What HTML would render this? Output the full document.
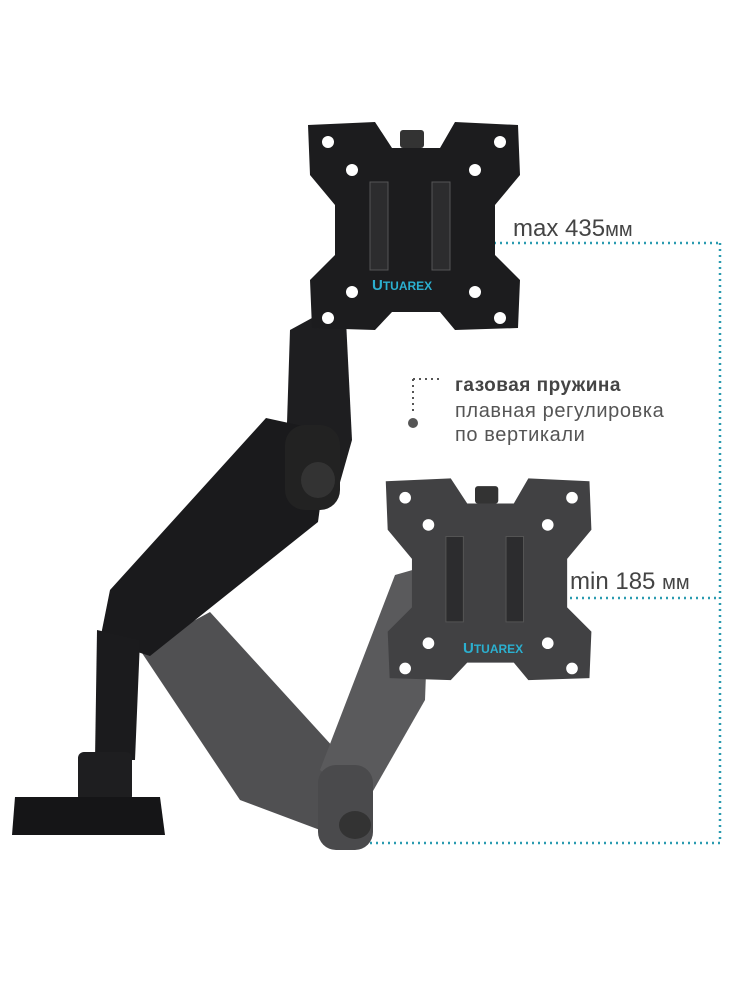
<!DOCTYPE html>
<html><head><meta charset="utf-8"><style>
html,body{margin:0;padding:0;background:#fff;width:750px;height:1000px;overflow:hidden}
svg{display:block}
text{font-family:"Liberation Sans",sans-serif}
</style></head><body>
<svg width="750" height="1000" viewBox="0 0 750 1000">
<defs>
<g id="plate">
<polygon points="308,125 375,122 392,148 440,148 455,122 518,125 520,175 495,205 495,255 520,280 518,328 455,330 440,312 392,312 375,330 312,328 310,280 335,255 335,205 310,175"/>
<g fill="#fff">
<circle cx="328" cy="142" r="6"/><circle cx="500" cy="142" r="6"/>
<circle cx="352" cy="170" r="6"/><circle cx="475" cy="170" r="6"/>
<circle cx="352" cy="292" r="6"/><circle cx="475" cy="292" r="6"/>
<circle cx="328" cy="318" r="6"/><circle cx="500" cy="318" r="6"/>
</g>
<rect x="370" y="182" width="18" height="88" fill="#2c2c2e" stroke="#555"/>
<rect x="432" y="182" width="18" height="88" fill="#2c2c2e" stroke="#555"/>
<rect x="400" y="130" width="24" height="18" rx="3" fill="#333"/>
</g>
</defs>

<g stroke="#2a9bb0" stroke-width="2.5" stroke-dasharray="2 4" fill="none">
<line x1="488" y1="243" x2="720" y2="243"/>
<line x1="720" y1="243" x2="720" y2="843"/>
<line x1="570" y1="598" x2="720" y2="598"/>
<line x1="358" y1="843" x2="720" y2="843"/>
</g>
<g stroke="#555" stroke-width="2" stroke-dasharray="2 4" fill="none">
<line x1="413" y1="379" x2="440" y2="379"/>
<line x1="413" y1="379" x2="413" y2="415"/>
</g>
<circle cx="413" cy="423" r="5" fill="#555"/>

<!-- gray (lower) arm -->
<polygon points="140,650 210,612 345,760 320,830 240,800" fill="#505052"/>
<polygon points="320,770 395,575 430,565 425,700 365,805" fill="#5a5a5c"/>
<rect x="318" y="765" width="55" height="85" rx="18" fill="#4a4a4c"/>
<ellipse cx="355" cy="825" rx="16" ry="14" fill="#333"/>

<g fill="#414143" transform="translate(87,360) scale(0.97)"><use href="#plate"/></g>
<text x="463" y="653" font-size="15" font-weight="bold" fill="#2bb0d0">U<tspan font-size="12">TUAREX</tspan></text>

<!-- black arm -->
<polygon points="290,330 345,300 352,440 335,500 285,485" fill="#1e1e20"/>
<polygon points="266,418 330,432 318,522 150,656 100,640 110,590" fill="#1a1a1c"/>
<rect x="285" y="425" width="55" height="85" rx="20" fill="#222"/>
<ellipse cx="318" cy="480" rx="17" ry="18" fill="#333"/>
<polygon points="97,630 140,640 135,760 95,760" fill="#1b1b1d"/>
<rect x="78" y="752" width="54" height="50" rx="6" fill="#1e1e20"/>
<polygon points="15,797 160,797 165,835 12,835" fill="#151517"/>

<g fill="#1c1c1e"><use href="#plate"/></g>
<text x="372" y="290" font-size="15" font-weight="bold" fill="#2bb0d0">U<tspan font-size="12">TUAREX</tspan></text>

<text x="513" y="236" font-size="24" fill="#444">max 435<tspan font-size="20">мм</tspan></text>
<text x="455" y="391" font-size="19" font-weight="bold" fill="#444" letter-spacing="0.5">газовая пружина</text>
<text x="455" y="417" font-size="20" fill="#555" letter-spacing="0.6">плавная регулировка</text>
<text x="455" y="441" font-size="20" fill="#555" letter-spacing="0.6">по вертикали</text>
<text x="570" y="589" font-size="24" fill="#444">min 185 <tspan font-size="20">мм</tspan></text>
</svg>
</body></html>
